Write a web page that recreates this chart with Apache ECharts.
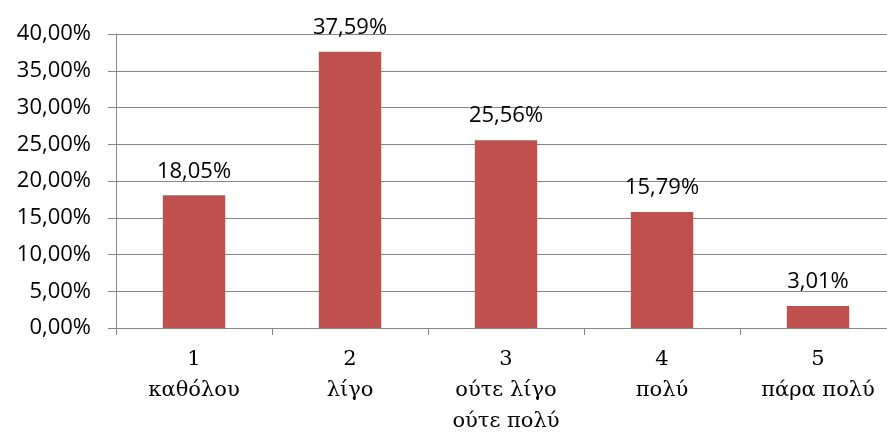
<!DOCTYPE html>
<html>
<head>
<meta charset="utf-8">
<script src="https://cdn.jsdelivr.net/npm/echarts@6/dist/echarts.min.js"></script>
<style>
  html, body { margin: 0; padding: 0; background: #fff; }
  #chart { width: 887px; height: 435px; }
</style>
</head>
<body>
<div id="chart"></div>
<script>
const categories = ['1\nκαθόλου', '2\nλίγο', '3\nούτε λίγο\nούτε πολύ', '4\nπολύ', '5\nπάρα πολύ']
const values = [18.05, 37.59, 25.56, 15.79, 3.01]

const fmt = (v) => v.toFixed(2).replace('.', ',') + '%'

const chart = echarts.init(document.getElementById('chart'))

chart.setOption({
  animation: false,
  grid: {
    left: 116,
    right: -9,
    top: 34,
    bottom: 107,
    outerBoundsMode: 'none',
    containLabel: false
  },
  xAxis: {
    type: 'category',
    data: categories,
    axisLine: { lineStyle: { color: '#878787', width: 1 } },
    axisTick: { show: true, length: 7, lineStyle: { color: '#878787' } },
    axisLabel: {
      color: '#000',
      fontFamily: 'DejaVu Serif',
      fontSize: 21,
      lineHeight: 31,
      margin: 16
    }
  },
  yAxis: {
    type: 'value',
    min: 0,
    max: 40,
    interval: 5,
    axisLine: { show: true, lineStyle: { color: '#878787', width: 1 } },
    axisTick: { show: true, inside: false, length: 8, lineStyle: { color: '#878787' } },
    splitLine: { lineStyle: { color: '#878787', width: 1 } },
    axisLabel: {
      color: '#000',
      fontFamily: 'Open Sans',
      fontSize: 22,
      margin: 25,
      formatter: fmt
    }
  },
  series: [
    {
      type: 'bar',
      data: values,
      barWidth: '40%',
      itemStyle: { color: '#C0504D' },
      label: {
        show: true,
        position: 'top',
        distance: 13,
        color: '#000',
        fontFamily: 'Open Sans',
        fontSize: 22,
        formatter: (p) => fmt(p.value)
      }
    }
  ]
})
</script>
</body>
</html>
